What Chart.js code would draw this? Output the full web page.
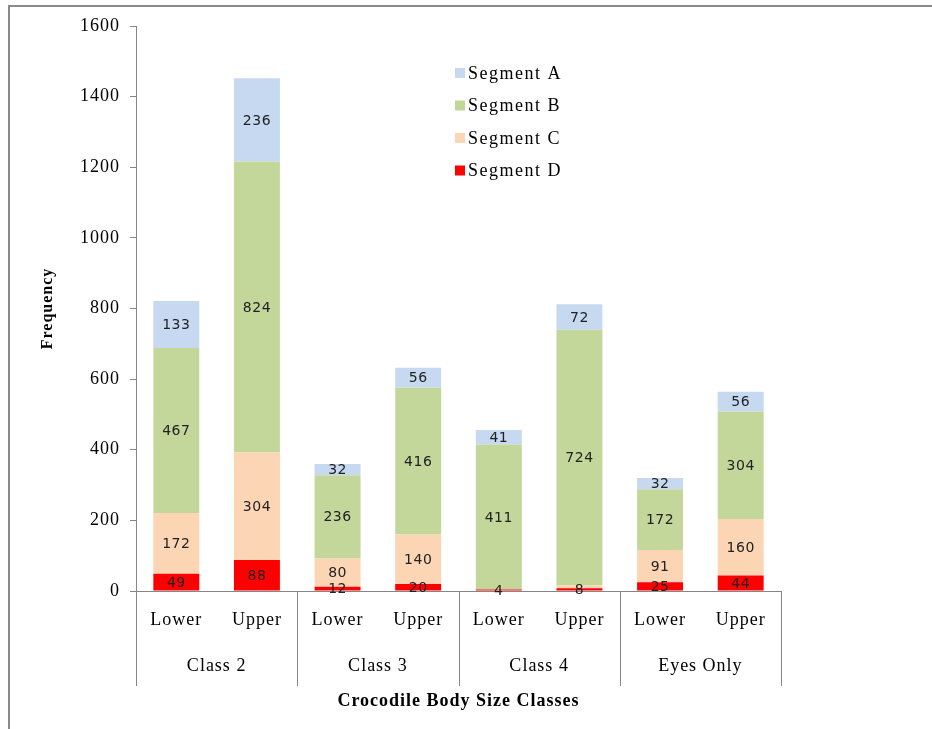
<!DOCTYPE html>
<html>
<head>
<meta charset="utf-8">
<script src="https://cdn.jsdelivr.net/npm/chart.js@4.4.1/dist/chart.umd.min.js"></script>
<style>
  html, body { margin: 0; padding: 0; background: #fff; }
  #wrap { position: relative; width: 932px; height: 729px; }
  #frameTop { position: absolute; left: 8px; top: 5px; width: 924px; height: 2px; background: #8a8a8a; }
  #frameLeft { position: absolute; left: 8px; top: 5px; width: 2px; height: 724px; background: #8a8a8a; }
  canvas { position: absolute; left: 0; top: 0; }
</style>
</head>
<body>
<div id="wrap">
  <canvas id="c" width="932" height="729"></canvas>
  <div id="frameTop"></div>
  <div id="frameLeft"></div>
</div>
<script>
// ---- data ----
const subLabels = ["Lower", "Upper", "Lower", "Upper", "Lower", "Upper", "Lower", "Upper"];
const groupLabels = ["Class 2", "Class 3", "Class 4", "Eyes Only"];
const segmentA = [133, 236, 32, 56, 41, 72, 32, 56];
const segmentB = [467, 824, 236, 416, 411, 724, 172, 304];
const segmentC = [172, 304, 80, 140, 0, 8, 91, 160];
const segmentD = [49, 88, 12, 20, 4, 8, 25, 44];
// labels shown in the reference (null = no label)
const labelsC = [172, 304, 80, 140, null, null, 91, 160];
const yTicks = [0, 200, 400, 600, 800, 1000, 1200, 1400, 1600];
const xTitle = "Crocodile Body Size Classes";
const yTitle = "Frequency";

const colA = "#c6d9f1", colB = "#c4d79b", colC = "#fcd5b5", colD = "#ff0000";
const axisGray = "#868686";
const serif = "'Liberation Serif', 'Times New Roman', serif";

const datasets = [
  { label: "Segment D", data: segmentD, backgroundColor: colD, labels: segmentD },
  { label: "Segment C", data: segmentC, backgroundColor: colC, labels: labelsC },
  { label: "Segment B", data: segmentB, backgroundColor: colB, labels: segmentB },
  { label: "Segment A", data: segmentA, backgroundColor: colA, labels: segmentA }
];

const spacingPlugin = {
  id: "spacing",
  beforeLayout(chart) { chart.ctx.letterSpacing = "1px"; },
  beforeDraw(chart) { chart.ctx.letterSpacing = "1px"; }
};

const segLabelPlugin = {
  id: "segLabels",
  afterDatasetsDraw(chart) {
    const ctx = chart.ctx;
    ctx.save();
    ctx.letterSpacing = "0.5px";
    ctx.font = "14px 'DejaVu Sans', Verdana, sans-serif";
    ctx.fillStyle = "#222";
    ctx.textAlign = "center";
    ctx.textBaseline = "middle";
    chart.data.datasets.forEach((ds, di) => {
      const meta = chart.getDatasetMeta(di);
      meta.data.forEach((bar, i) => {
        const v = ds.labels[i];
        if (v === null || v === undefined) return;
        const y = (bar.y + bar.base) / 2;
        ctx.fillText(String(v), bar.x, y + 1);
      });
    });
    ctx.restore();
  }
};

const legendPlugin = {
  id: "insideLegend",
  afterDraw(chart) {
    const ctx = chart.ctx;
    const order = [3, 2, 1, 0];
    ctx.save();
    ctx.letterSpacing = "1.5px";
    ctx.font = "18px " + serif;
    ctx.textBaseline = "middle";
    ctx.textAlign = "left";
    order.forEach((di, k) => {
      const ds = chart.data.datasets[di];
      const y = 73 + k * 32.5;
      ctx.fillStyle = ds.backgroundColor;
      ctx.fillRect(455, y - 5, 10, 10);
      ctx.fillStyle = "#000";
      ctx.fillText(ds.label, 468, y + 1);
    });
    ctx.restore();
  }
};

const groupPlugin = {
  id: "groupAxis",
  afterDraw(chart) {
    const ctx = chart.ctx;
    const area = chart.chartArea;
    const n = groupLabels.length;
    const w = (area.right - area.left) / n;
    ctx.save();
    ctx.strokeStyle = axisGray;
    ctx.lineWidth = 1;
    for (let k = 0; k <= n; k++) {
      const x = Math.round(area.left + k * w) + 0.5;
      ctx.beginPath();
      ctx.moveTo(x, area.bottom);
      ctx.lineTo(x, area.bottom + 95);
      ctx.stroke();
    }
    ctx.letterSpacing = "1px";
    ctx.font = "18px " + serif;
    ctx.fillStyle = "#000";
    ctx.textAlign = "center";
    ctx.textBaseline = "middle";
    groupLabels.forEach((g, k) => {
      ctx.fillText(g, area.left + (k + 0.5) * w, area.bottom + 75);
    });
    ctx.restore();
  }
};

new Chart(document.getElementById("c"), {
  type: "bar",
  data: { labels: subLabels, datasets },
  options: {
    responsive: false,
    animation: false,
    events: [],
    layout: { padding: { left: 20, right: 151, top: 26, bottom: 17 } },
    datasets: { bar: { categoryPercentage: 1.0, barPercentage: 0.57 } },
    plugins: { legend: { display: false }, tooltip: { enabled: false } },
    scales: {
      x: {
        stacked: true,
        grid: { display: false },
        border: { display: true, color: axisGray, width: 1 },
        ticks: { color: "#000", font: { family: serif, size: 18 }, padding: 10, maxRotation: 0 },
        title: { display: true, text: xTitle, color: "#000", font: { family: serif, size: 18, weight: "bold" }, padding: { top: 0, bottom: 0 } },
        afterFit(scale) { scale.height = 121; }
      },
      y: {
        stacked: true,
        min: 0, max: 1600,
        afterBuildTicks(scale) { scale.ticks = yTicks.map(v => ({ value: v })); },
        grid: { display: true, drawOnChartArea: false, drawTicks: true, tickLength: 6, color: axisGray },
        border: { display: true, color: axisGray, width: 1 },
        ticks: { color: "#000", font: { family: serif, size: 18 }, padding: 10, callback: (v) => String(v) },
        title: { display: true, text: yTitle, color: "#000", font: { family: serif, size: 16, weight: "bold" }, padding: { top: 18, bottom: 0 } },
        afterFit(scale) { scale.width = 116; }
      }
    }
  },
  plugins: [spacingPlugin, segLabelPlugin, legendPlugin, groupPlugin]
});
</script>
</body>
</html>
